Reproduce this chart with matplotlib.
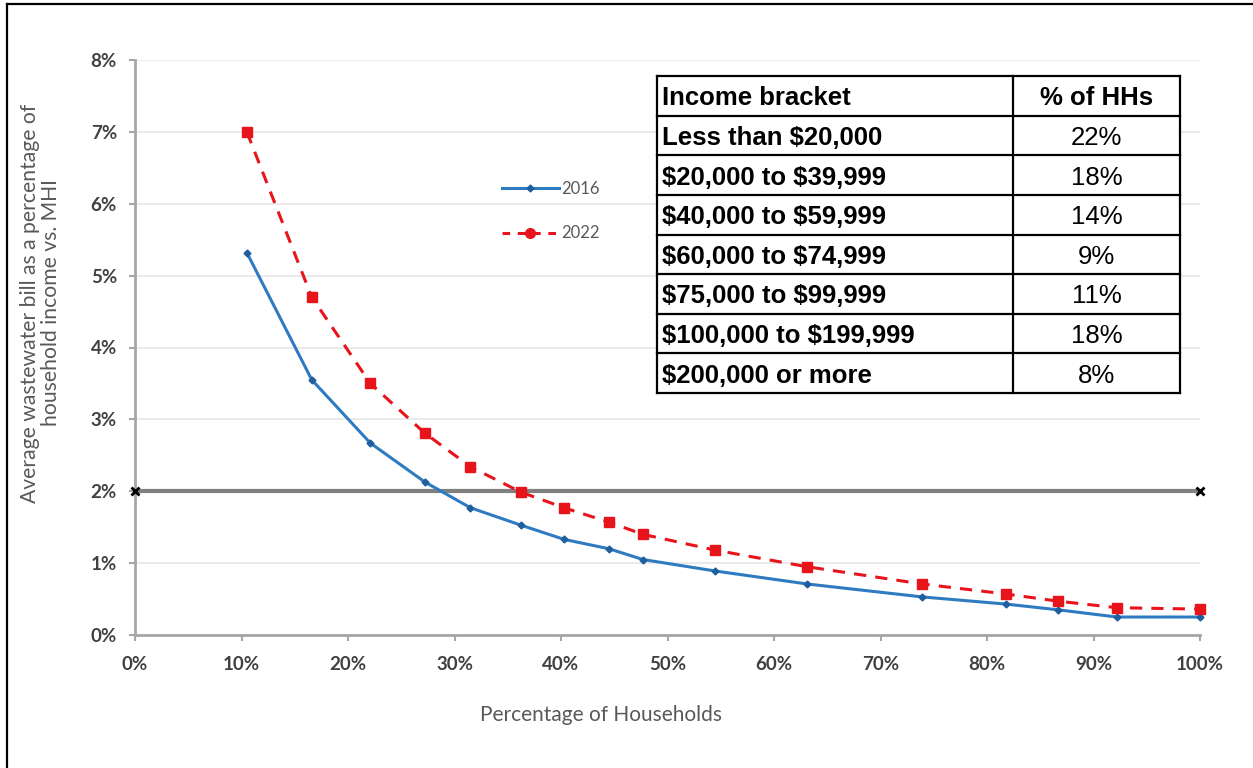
import matplotlib
matplotlib.use("Agg")
import matplotlib.pyplot as plt
from matplotlib.lines import Line2D

plt.rcParams["text.parse_math"] = False

# ---------------- data ----------------
pct_households = [10.5, 16.6, 22.1, 27.2, 31.5, 36.2, 40.3, 44.5, 47.7, 54.5, 63.1, 73.9, 81.8, 86.7, 92.2, 100.0]
bill_2016 = [5.32, 3.55, 2.67, 2.13, 1.77, 1.53, 1.33, 1.20, 1.05, 0.89, 0.71, 0.53, 0.43, 0.35, 0.25, 0.25]
bill_2022 = [7.00, 4.70, 3.50, 2.81, 2.34, 1.99, 1.77, 1.57, 1.40, 1.18, 0.95, 0.71, 0.57, 0.47, 0.38, 0.36]
threshold_x = [0, 100]
threshold_y = [2, 2]

x_ticks = [0, 10, 20, 30, 40, 50, 60, 70, 80, 90, 100]
y_ticks = [0, 1, 2, 3, 4, 5, 6, 7, 8]

table_header = ["Income bracket", "% of HHs"]
income_brackets = ["Less than $20,000", "$20,000 to $39,999", "$40,000 to $59,999",
                   "$60,000 to $74,999", "$75,000 to $99,999", "$100,000 to $199,999",
                   "$200,000 or more"]
share_hhs = ["22%", "18%", "14%", "9%", "11%", "18%", "8%"]

# ---------------- figure ----------------
W, H = 1253, 768
fig = plt.figure(figsize=(W / 100, H / 100), dpi=100)
fig.patch.set_facecolor("white")

# outer frame (left and top edges visible)
fx0 = 7 / W
fy1 = 1 - 4 / H
fig.add_artist(Line2D([fx0, fx0], [0, fy1], transform=fig.transFigure, color="black", lw=1.6))
fig.add_artist(Line2D([fx0, 1], [fy1, fy1], transform=fig.transFigure, color="black", lw=1.6))

ax_l, ax_r, ax_t, ax_b = 135, 1200, 60, 635
ax = fig.add_axes([ax_l / W, 1 - ax_b / H, (ax_r - ax_l) / W, (ax_b - ax_t) / H])
ax.set_xlim(0, 100)
ax.set_ylim(0, 8)

axis_font = "Lato"
tick_color = "#404040"
label_color = "#595959"
blue = "#2f7bc1"
red = "#e8141b"

for y in y_ticks[1:]:
    ax.axhline(y, color="#e6e6e6", lw=1.2, zorder=0)

ax.plot(threshold_x, threshold_y, color="#808080", lw=3, zorder=2, clip_on=False)
ax.plot(threshold_x, threshold_y, ls="none", marker="x", color="black", ms=6, mew=2, zorder=5, clip_on=False)

ax.plot(pct_households, bill_2016, color=blue, lw=2.2, marker="D", ms=3.5,
        mfc="#1f5f9e", mec="#1f5f9e", zorder=3, clip_on=False)
ax.plot(pct_households, bill_2022, color=red, lw=2.2, ls=(0, (4, 3)), marker="s", ms=7,
        mfc=red, mec=red, zorder=4, clip_on=False)

for s in ["top", "right"]:
    ax.spines[s].set_visible(False)
for s in ["left", "bottom"]:
    ax.spines[s].set_color("#a6a6a6")
    ax.spines[s].set_linewidth(2)

ax.set_xticks(x_ticks)
ax.set_xticklabels([f"{v}%" for v in x_ticks])
ax.set_yticks(y_ticks)
ax.set_yticklabels([f"{v}%" for v in y_ticks])
ax.tick_params(axis="both", direction="out", length=4, width=1.5, color="#a6a6a6",
               labelcolor=tick_color, labelsize=13.5)
ax.tick_params(axis="x", pad=11)
ax.tick_params(axis="y", pad=9)
for lab in ax.get_xticklabels() + ax.get_yticklabels():
    lab.set_fontfamily(axis_font)
    lab.set_fontweight("bold")

ax.set_xlabel("Percentage of Households", fontsize=15, color=label_color, fontfamily=axis_font)
ax.xaxis.set_label_coords((601 - ax_l) / (ax_r - ax_l), (ax_b - 715) / (ax_b - ax_t))
ax.xaxis.label.set_va("center")
ax.set_ylabel("Average wastewater bill as a percentage of\nhousehold income vs. MHI",
              fontsize=15.2, color=label_color, fontfamily=axis_font, linespacing=1.1)
ax.yaxis.set_label_coords((40.5 - ax_l) / (ax_r - ax_l), (ax_b - 303) / (ax_b - ax_t))
ax.yaxis.label.set_va("center")

handles = [Line2D([], [], color=blue, lw=2.2, marker="D", ms=3.5, mfc="#1f5f9e", mec="#1f5f9e"),
           Line2D([], [], color=red, lw=2.2, ls=(0, (2.5, 2.5)), marker="o", ms=7, mfc=red, mec=red)]
leg = ax.legend(handles, ["2016", "2022"], loc="upper left",
                bbox_to_anchor=((502 - ax_l) / (ax_r - ax_l), (ax_b - 181) / (ax_b - ax_t)),
                frameon=False, prop={"family": axis_font, "size": 12}, handlelength=3.4,
                labelspacing=1.7, handletextpad=0.15, borderpad=0, borderaxespad=0)
for t in leg.get_texts():
    t.set_color("#595959")

# ---------------- table ----------------
tl, tr, tt, tb = 657, 1180, 76, 393
tax = fig.add_axes([tl / W, 1 - tb / H, (tr - tl) / W, (tb - tt) / H])
nrows = len(income_brackets) + 1
tax.set_xlim(0, 1)
tax.set_ylim(nrows, 0)
tax.axis("off")
tax.add_patch(plt.Rectangle((0, 0), 1, nrows, facecolor="white", edgecolor="none", zorder=0))
col_split = (1013 - tl) / (tr - tl)
lw_t = 1.6
for r in range(nrows + 1):
    tax.plot([0, 1], [r, r], color="black", lw=lw_t, clip_on=False, solid_capstyle="projecting")
tax.plot([0, 0], [0, nrows], color="black", lw=lw_t, clip_on=False, solid_capstyle="projecting")
tax.plot([1, 1], [0, nrows], color="black", lw=lw_t, clip_on=False, solid_capstyle="projecting")
tax.plot([col_split, col_split], [0, nrows], color="black", lw=lw_t, clip_on=False)

tfont = "Liberation Sans"
tsize = 18.5
pad = 5 / (tr - tl)
tax.text(pad, 0.5, table_header[0], ha="left", va="center_baseline", fontsize=tsize,
         fontweight="bold", fontfamily=tfont, color="black")
tax.text((col_split + 1) / 2, 0.5, table_header[1], ha="center", va="center_baseline",
         fontsize=tsize, fontweight="bold", fontfamily=tfont, color="black")
for i, (b, s) in enumerate(zip(income_brackets, share_hhs)):
    y = i + 1.5
    tax.text(pad, y, b, ha="left", va="center_baseline", fontsize=tsize, fontweight="bold",
             fontfamily=tfont, color="black")
    tax.text((col_split + 1) / 2, y, s, ha="center", va="center_baseline", fontsize=tsize,
             fontfamily=tfont, color="black")

fig.savefig("out.png", dpi=100)
